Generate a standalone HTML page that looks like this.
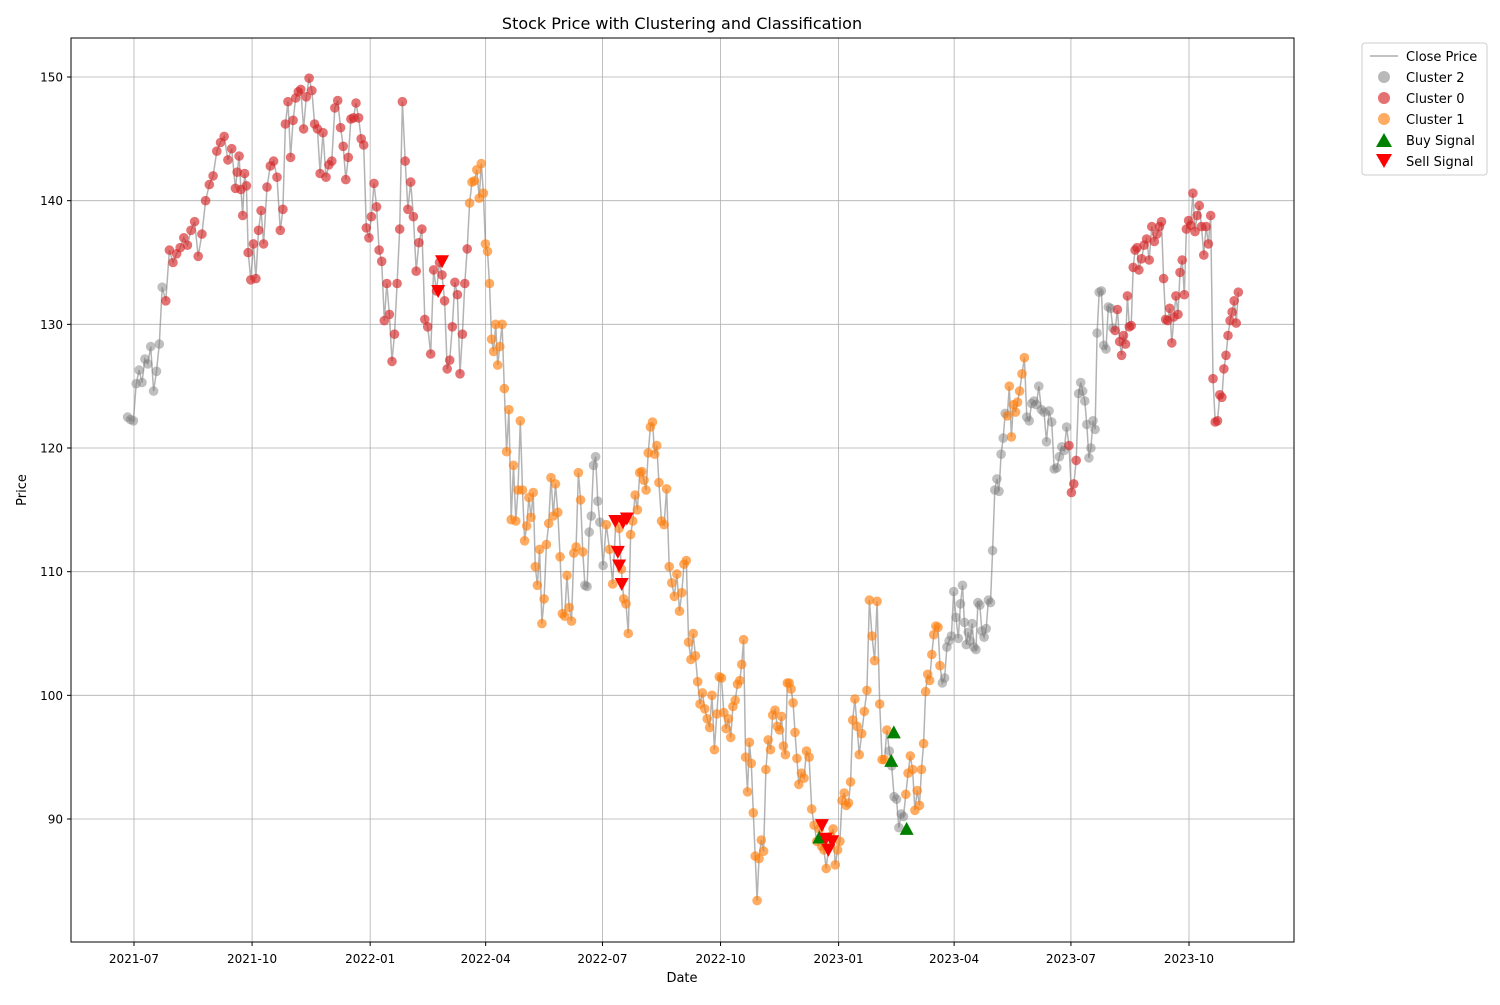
<!DOCTYPE html>
<html><head><meta charset="utf-8"><style>
html,body{margin:0;padding:0;background:#fff;}
svg text{font-family:"DejaVu Sans","Liberation Sans",sans-serif;}
</style></head><body>
<svg id="chart" width="1500" height="1000" viewBox="0 0 1500 1000">
<rect width="1500" height="1000" fill="#fff"/>
<text x="682" y="29" font-size="16" text-anchor="middle">Stock Price with Clustering and Classification</text>
<g id="grid"></g>
<g id="series"></g>
<rect x="71" y="38" width="1223" height="904" fill="none" stroke="#000" stroke-width="1"/>
<g id="axes"></g>
<text x="682" y="982" font-size="13" text-anchor="middle">Date</text>
<text x="26" y="490" font-size="13" text-anchor="middle" transform="rotate(-90 26 490)">Price</text>
<g id="legend">
<rect x="1362" y="43" width="125" height="132" rx="3" fill="#fff" fill-opacity="0.8" stroke="#ccc"/>
<line x1="1370" y1="56" x2="1398" y2="56" stroke="#999" stroke-opacity="0.8" stroke-width="1.5"/>
<text x="1406" y="61" font-size="13">Close Price</text>
<circle cx="1384" cy="77" r="6" fill="#7f7f7f" fill-opacity="0.55"/>
<text x="1406" y="82" font-size="13">Cluster 2</text>
<circle cx="1384" cy="98" r="6" fill="#d62728" fill-opacity="0.65"/>
<text x="1406" y="103" font-size="13">Cluster 0</text>
<circle cx="1384" cy="119" r="6" fill="#ff7f0e" fill-opacity="0.65"/>
<text x="1406" y="124" font-size="13">Cluster 1</text>
<polygon points="1384,133 1392,147 1376,147" fill="green"/>
<text x="1406" y="145" font-size="13">Buy Signal</text>
<polygon points="1376,154 1392,154 1384,168" fill="red"/>
<text x="1406" y="166" font-size="13">Sell Signal</text>
</g>
</svg>
<script>
const segStarts = ['2021-06-26','2021-07-23','2021-08-20','2021-09-18','2021-09-28','2021-10-10','2021-10-23','2021-11-08','2021-11-23','2021-12-09','2021-12-25','2022-01-08','2022-01-24','2022-02-08','2022-02-24','2022-03-12','2022-03-27','2022-04-12','2022-04-28','2022-05-13','2022-05-29','2022-06-14','2022-06-29','2022-07-14','2022-07-30','2022-08-14','2022-08-30','2022-09-15','2022-09-30','2022-10-16','2022-10-31','2022-11-16','2022-12-01','2022-12-17','2023-01-02','2023-01-17','2023-02-02','2023-02-17','2023-03-05','2023-03-21','2023-04-06','2023-04-21','2023-05-06','2023-05-22','2023-06-06','2023-06-22','2023-07-07','2023-07-23','2023-08-08','2023-08-23','2023-09-08','2023-09-24','2023-10-09','2023-10-25','2023-11-10'];
const segPrices = [
[122.5,122.3,122.2,125.2,126.3,125.3,127.2,126.8,128.2,124.6,126.2,128.4],
[133,131.9,136,135,135.7,136.2,137,136.4,137.6,138.3],
[135.5,137.3,140,141.3,142,144,144.7,145.2,143.3,144.2],
[141,142.3,143.6,140.9,138.8,142.2,141.2],
[135.8,133.6,136.5,133.7,137.6,139.2],
[136.5,141.1,142.8,143.2,141.9],
[137.6,139.3,146.2,148,143.5,146.5,148.3,148.8],
[149,145.8,148.4,149.9,148.9,146.2,145.8],
[142.2,145.5,141.9,142.9,143.2,147.5,148.1],
[145.9,144.4,141.7,143.5,146.6,146.7,147.9,146.7],
[145,144.5,137.8,137,138.7,141.4,139.5],
[136,135.1,130.3,133.3,130.8,127,129.2,133.3],
[137.7,148,143.2,139.3,141.5,138.7,134.3],
[136.6,137.7,130.4,129.8,127.6,134.4,132.7],
[135,134,131.9,126.4,127.1,129.8,133.4,132.4],
[126,129.2,133.3,136.1,139.8,141.5,141.6,142.5],
[140.2,143,140.6,136.5,135.9,133.3,128.8,127.8,130,126.7],
[128.2,130,124.8,119.7,123.1,114.2,118.6,114.1,116.6],
[122.2,116.6,112.5,113.7,116,114.4,116.4,110.4,108.9],
[111.8,105.8,107.8,112.2,113.9,117.6,114.5,117.1,114.8],
[111.2,106.6,106.4,109.7,107.1,106,111.5,112,118],
[115.8,111.6,108.9,108.8,113.2,114.5,118.6,119.3,115.7],
[114,110.5,113.8,111.8,109,114.2],
[113.5,110.2,107.8,107.4,105,113,114.1,116.2,115],
[118,118.1,117.4,116.6,119.6,121.7,122.1,119.5,120.2],
[117.2,114.1,113.8,116.7,110.4,109.1,108,109.8],
[106.8,108.3,110.6,110.9,104.3,102.9,105,103.2,101.1],
[99.3,100.2,98.9,98.1,97.4,100,95.6,98.5],
[101.5,101.4,98.6,97.3,98.1,96.6,99.1,99.6,100.9],
[101.2,102.5,104.5,95,92.2,96.2,94.5,90.5,87,83.4],
[86.8,88.3,87.4,94,96.4,95.6,98.4,98.8,97.5],
[97.2,98.3,95.9,95.2,101,101,100.5,99.4,97,94.9],
[92.8,93.7,93.3,95.5,95,90.8,89.5,88.2],
[89.2,87.8,87.5,86,87.7,88.6,89.2,86.3,87.5],
[88.2,91.5,92.1,91.1,91.3,93,98,99.7,97.5],
[95.2,96.9,98.7,100.4,107.7,104.8,102.8,107.6],
[99.3,94.8,94.8,97.2,95.5,94.3,91.8,91.6],
[89.3,90.4,90.2,92,93.7,95.1,94,90.7,92.3],
[91.1,94,96.1,100.3,101.7,101.2,103.3,104.9,105.6,105.5],
[102.4,101,101.4,103.9,104.4,104.8,108.4,106.3,104.6],
[107.4,108.9,105.9,104.1,105.1,104.4,105.8,103.9,103.7,107.5],
[107.3,105.2,104.7,105.4,107.7,107.5,111.7,116.6,117.5],
[116.5,119.5,120.8,122.8,122.6,125,120.9,123.5,122.9,123.7],
[124.6,126,127.3,122.5,122.2,123.6,123.8,123.5],
[125,123.1,122.9,120.5,123,122.1,118.3,118.4],
[119.3,120.1,119.8,121.7,120.2,116.4,117.1,119],
[124.4,125.3,124.6,123.8,121.9,119.2,120,122.2,121.5,129.3],
[132.6,132.7,128.3,128,131.4,131.3,129.7,129.5,131.2],
[128.6,127.5,129.1,128.4,132.3,129.8,129.9,134.6,136,136.2],
[134.4,135.3,136.4,136.9,135.2,137.9,136.7,137.3],
[137.9,138.3,133.7,130.4,130.3,131.3,128.5,130.6,132.3,130.8],
[134.2,135.2,132.4,137.7,138.4,138,140.6,137.5,138.8],
[139.6,137.9,135.6,137.9,136.5,138.8,125.6,122.1,122.2],
[124.3,124.1,126.4,127.5,129.1,130.3,131,131.9,130.1,132.6]
];
const clusterStarts = ['2021-06-01','2021-07-25','2022-03-19','2022-06-16','2022-07-04','2023-02-08','2023-02-22','2023-03-22','2023-05-12','2023-05-26','2023-06-29','2023-07-07','2023-08-03'];
const clusterIds = [2,0,1,2,1,2,1,2,1,2,0,2,0];
const buyDates = ['2022-12-17','2023-02-11','2023-02-13','2023-02-23'];
const buyPrices = [88.5,94.7,97,89.2];
const sellDates = ['2022-02-23','2022-02-26','2022-07-11','2022-07-13','2022-07-14','2022-07-16','2022-07-17','2022-07-20','2022-12-19','2022-12-22','2022-12-24','2022-12-27'];
const sellPrices = [132.7,135.1,114.1,111.6,110.5,109,114,114.3,89.5,88.4,87.5,88.2];
const xTickLabels = ['2021-07','2021-10','2022-01','2022-04','2022-07','2022-10','2023-01','2023-04','2023-07','2023-10'];
const yTickValues = [90,100,110,120,130,140,150];

const NS='http://www.w3.org/2000/svg';
const DAY=86400000;
const t0=Date.parse('2021-07-01'), t1=Date.parse('2023-10-01');
function xScale(t){return 134+(t-t0)/(t1-t0)*(1189-134);}
function yScale(v){return 77+(150-v)*(819-77)/60;}
function mk(tag,attrs,parent){const e=document.createElementNS(NS,tag);for(const k in attrs)e.setAttribute(k,attrs[k]);parent.appendChild(e);return e;}
const grid=document.getElementById('grid'),axes=document.getElementById('axes'),series=document.getElementById('series');

xTickLabels.forEach(lbl=>{
  const x=xScale(Date.parse(lbl+'-01'));
  const g=mk('line',{x1:x,y1:38,x2:x,y2:942,stroke:'#b0b0b0','stroke-width':0.8},grid);
  
  
  mk('line',{x1:x,y1:942,x2:x,y2:946,stroke:'#000'},axes);
  const t=mk('text',{x:x,y:963,'font-size':12,'text-anchor':'middle'},axes);
  t.textContent=lbl;
  
  
});
yTickValues.forEach(v=>{
  const y=yScale(v);
  const g=mk('line',{x1:71,y1:y,x2:1294,y2:y,stroke:'#b0b0b0','stroke-width':0.8},grid);
  
  
  mk('line',{x1:67,y1:y,x2:71,y2:y,stroke:'#000'},axes);
  const t=mk('text',{x:63,y:y+4.5,'font-size':12,'text-anchor':'end'},axes);
  t.textContent=String(v);
  
  
});

// build points
const pts=[];
for(let i=0;i<segPrices.length;i++){
  const a=Date.parse(segStarts[i]),b=Date.parse(segStarts[i+1]);
  const vals=segPrices[i];
  vals.forEach((v,j)=>{pts.push({t:a+(b-a)*j/vals.length,v:v});});
}
function clusterOf(t){let c=clusterIds[0];for(let i=0;i<clusterStarts.length;i++){if(t>=Date.parse(clusterStarts[i]))c=clusterIds[i];}return c;}

const d=pts.map((p,i)=>(i?'L':'M')+xScale(p.t).toFixed(1)+','+yScale(p.v).toFixed(1)).join(' ');
const line=mk('path',{d:d,fill:'none',stroke:'#808080','stroke-opacity':0.6,'stroke-width':1.5},series);



const colors={0:'#d62728',1:'#ff7f0e',2:'#7f7f7f'};
const ops={0:0.65,1:0.65,2:0.5};
pts.forEach(p=>{
  const c=clusterOf(p.t);
  const e=mk('circle',{cx:xScale(p.t).toFixed(1),cy:yScale(p.v).toFixed(1),r:4.8,fill:colors[c],'fill-opacity':ops[c]},series);
  
  
});
buyDates.forEach((dt,i)=>{
  const x=xScale(Date.parse(dt)),y=yScale(buyPrices[i]);
  const e=mk('polygon',{points:`${x},${y-7} ${x+7},${y+6} ${x-7},${y+6}`,fill:'green'},series);
  
  
});
sellDates.forEach((dt,i)=>{
  const x=xScale(Date.parse(dt)),y=yScale(sellPrices[i]);
  const e=mk('polygon',{points:`${x-7},${y-6} ${x+7},${y-6} ${x},${y+7}`,fill:'red'},series);
  
  
});
</script>
</body></html>
